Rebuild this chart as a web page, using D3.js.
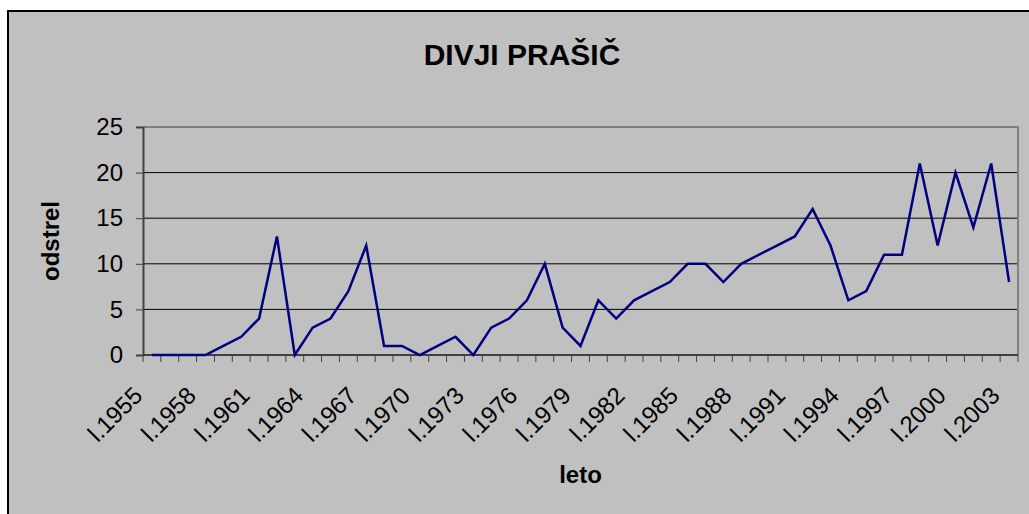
<!DOCTYPE html>
<html>
<head>
<meta charset="utf-8">
<script src="https://cdn.jsdelivr.net/npm/d3@7"></script>
<style>
  body { margin: 0; background: #fff; }
  svg { display: block; font-family: Arial, "Liberation Sans", sans-serif; }
</style>
</head>
<body>
<div id="container"></div>
<script>
// data
const years = d3.range(1955, 2004);
const odstrel = [0, 0, 0, 0, 1, 2, 4, 13, 0, 3, 4, 7, 12, 1, 1, 0, 1, 2, 0, 3,
  4, 6, 10, 3, 1, 6, 4, 6, 7, 8, 10, 10, 8, 10, 11, 12, 13, 16, 12, 6,
  7, 11, 11, 21, 12, 20, 14, 21, 8];
const yTicks = [0, 5, 10, 15, 20, 25];
const labelYears = years.filter((y, i) => i % 3 === 0);

let w = 1029;
let h = 514;
let plot = { left: 143, right: 1018, top: 127, bottom: 355 };

let viz = d3.select("#container")
  .append("svg")
    .attr("width", w)
    .attr("height", h);

// chart area
viz.append("rect")
  .attr("x", 8).attr("y", 11)
  .attr("width", w + 10).attr("height", h + 10)
  .attr("fill", "#c0c0c0")
  .attr("stroke", "#000")
  .attr("stroke-width", 2);

let xScale = d3.scaleBand()
  .domain(years)
  .range([plot.left, plot.right]);

let yScale = d3.scaleLinear()
  .domain([0, 25])
  .range([plot.bottom, plot.top]);

// gridlines
viz.append("g")
  .selectAll("line")
  .data(yTicks.filter(d => d > 0 && d < 25))
  .join("line")
    .attr("x1", plot.left).attr("x2", plot.right)
    .attr("y1", d => yScale(d)).attr("y2", d => yScale(d))
    .attr("stroke", "#000")
    .attr("stroke-width", 1);

// plot area border (top and right)
viz.append("path")
  .attr("d", `M${plot.left},${plot.top}H${plot.right}V${plot.bottom}`)
  .attr("fill", "none")
  .attr("stroke", "#808080")
  .attr("stroke-width", 2);

// y axis
let yAxis = viz.append("g")
  .attr("transform", `translate(${plot.left},0)`)
  .call(d3.axisLeft(yScale).tickValues(yTicks).tickSize(7).tickPadding(13));
yAxis.select(".domain").attr("stroke", "#404040").attr("stroke-width", 2);
yAxis.selectAll(".tick line").attr("stroke", "#404040");
yAxis.selectAll("text")
  .attr("font-size", 24)
  .attr("font-family", "Arial, 'Liberation Sans', sans-serif")
  .attr("fill", "#000");

// x axis: ticks between categories
let xAxis = viz.append("g")
  .attr("transform", `translate(0,${plot.bottom})`);
xAxis.append("line")
  .attr("x1", plot.left).attr("x2", plot.right)
  .attr("stroke", "#404040").attr("stroke-width", 2);
xAxis.selectAll(".tk")
  .data(years.concat([null]))
  .join("line")
    .attr("class", "tk")
    .attr("x1", d => d === null ? plot.right : xScale(d))
    .attr("x2", d => d === null ? plot.right : xScale(d))
    .attr("y1", 0).attr("y2", 7)
    .attr("stroke", "#404040");
xAxis.selectAll(".lbl")
  .data(labelYears)
  .join("text")
    .attr("class", "lbl")
    .attr("transform", d => `translate(${xScale(d) + xScale.bandwidth() / 2 - 8},${42}) rotate(-45)`)
    .attr("text-anchor", "end")
    .attr("font-size", 24)
    .attr("fill", "#000")
    .text(d => "l." + d);

// line
let line = d3.line()
  .x((d, i) => xScale(years[i]) + xScale.bandwidth() / 2)
  .y(d => yScale(d));

viz.append("path")
  .datum(odstrel)
  .attr("fill", "none")
  .attr("stroke", "#000080")
  .attr("stroke-width", 2.5)
  .attr("d", line);

// titles
viz.append("text")
  .attr("x", 522).attr("y", 65)
  .attr("text-anchor", "middle")
  .attr("font-size", 30).attr("font-weight", "bold")
  .text("DIVJI PRAŠIČ");

viz.append("text")
  .attr("x", (plot.left + plot.right) / 2).attr("y", 483)
  .attr("text-anchor", "middle")
  .attr("font-size", 24).attr("font-weight", "bold")
  .text("leto");

viz.append("text")
  .attr("transform", `translate(59,${(plot.top + plot.bottom) / 2}) rotate(-90)`)
  .attr("text-anchor", "middle")
  .attr("font-size", 24).attr("font-weight", "bold")
  .text("odstrel");
</script>
</body>
</html>
